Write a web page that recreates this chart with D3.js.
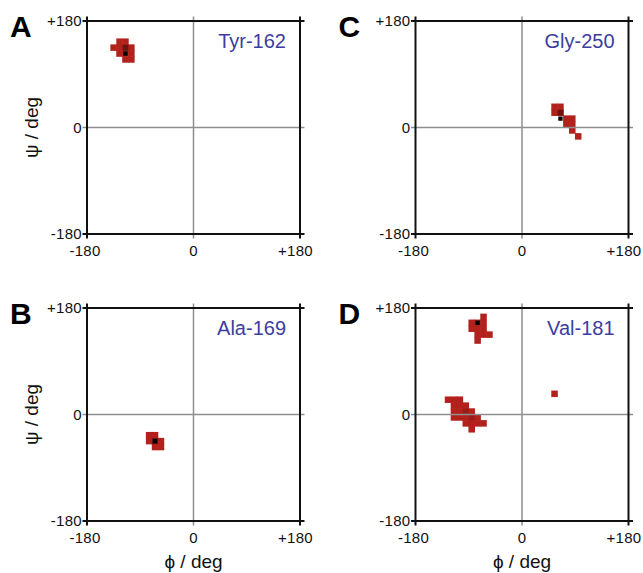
<!DOCTYPE html>
<html>
<head>
<meta charset="utf-8">
<script src="https://cdn.jsdelivr.net/npm/d3@7"></script>
<style>
  body { margin: 0; background: #fff; }
  text { font-family: "Liberation Sans", Arial, sans-serif; }
</style>
</head>
<body>
<svg id="chart" width="643" height="573"></svg>
<script>
// phi/psi bins (lower edge, degrees), 10 deg wide
const binSize = 10;
const tickValues = [-180, 0, 180];
const tickLabels = ["-180", "0", "+180"];

const letters = ["A", "C", "B", "D"];
const residues = ["Tyr-162", "Gly-250", "Ala-169", "Val-181"];

const tyrCells = [
  [-130, 140], [-120, 140],
  [-140, 130], [-130, 130], [-120, 130], [-110, 130],
  [-130, 120], [-120, 120], [-110, 120],
  [-120, 110], [-110, 110]
];
const tyrDark = [[-120, 130]];
const tyrCrystal = [[-120, 120]];

const glyCells = [
  [50, 30], [60, 30], [50, 20], [60, 20],
  [70, 10], [80, 10], [70, 0], [80, 0],
  [80, -10], [90, -20]
];
const glyDark = [[60, 20]];
const glyCrystal = [[60, 10]];

const alaCells = [
  [-80, -40], [-70, -40],
  [-80, -50], [-70, -50], [-60, -50],
  [-70, -60], [-60, -60]
];
const alaDark = [[-70, -50]];
const alaCrystal = [[-70, -50]];

const valCells = [
  [-70, 160],
  [-90, 150], [-80, 150], [-70, 150],
  [-90, 140], [-80, 140], [-70, 140],
  [-80, 130], [-70, 130], [-60, 130],
  [-80, 120],
  [-130, 20], [-120, 20], [-110, 20],
  [-120, 10], [-110, 10], [-100, 10],
  [-120, 0], [-110, 0], [-100, 0], [-90, 0],
  [-120, -10], [-110, -10], [-100, -10], [-90, -10], [-80, -10],
  [-100, -20], [-90, -20], [-80, -20], [-70, -20],
  [-90, -30],
  [50, 30]
];
const valDark = [[-100, 0], [-90, -10]];
const valCrystal = [[-80, 150]];

const cellSets = [tyrCells, glyCells, alaCells, valCells];
const darkSets = [tyrDark, glyDark, alaDark, valDark];
const crystalSets = [tyrCrystal, glyCrystal, alaCrystal, valCrystal];

const size = 213;
const lefts = [87, 415.5];
const tops = [21, 308];

const svg = d3.select("#chart");

const x = d3.scaleLinear().domain([-180, 180]).range([0, size]);
const y = d3.scaleLinear().domain([-180, 180]).range([size, 0]);
const cw = x(binSize) - x(0);

letters.forEach((letter, i) => {
  let col = i % 2, row = Math.floor(i / 2);
  let g = svg.append("g")
    .attr("transform", `translate(${lefts[col]},${tops[row]})`);

  // binned conformations (slight overlap so neighbours fuse)
  g.selectAll("rect.cell")
    .data(cellSets[i])
    .enter()
    .append("rect")
    .attr("class", "cell")
    .attr("x", d => x(d[0]) - 0.3)
    .attr("y", d => y(d[1] + binSize) - 0.3)
    .attr("width", cw + 0.6)
    .attr("height", cw + 0.6)
    .attr("fill", "#b3211c");

  g.selectAll("rect.dark")
    .data(darkSets[i])
    .enter()
    .append("rect")
    .attr("class", "dark")
    .attr("x", d => x(d[0]))
    .attr("y", d => y(d[1] + binSize))
    .attr("width", cw)
    .attr("height", cw)
    .attr("fill", i == 3 ? "#9a1c18" : "#6e1410");

  g.selectAll("rect.crystal")
    .data(crystalSets[i])
    .enter()
    .append("rect")
    .attr("class", "crystal")
    .attr("x", d => x(d[0]) + 0.8)
    .attr("y", d => y(d[1] + binSize) + 0.8)
    .attr("width", cw - 1.6)
    .attr("height", cw - 1.6)
    .attr("fill", "#000");

  let ext = 4.5;
  // zero lines
  g.append("line")
    .attr("x1", x(0)).attr("x2", x(0))
    .attr("y1", -ext).attr("y2", size + ext)
    .attr("stroke", "#8e8e8e").attr("stroke-width", 1.5);
  g.append("line")
    .attr("x1", -ext).attr("x2", size + ext)
    .attr("y1", y(0)).attr("y2", y(0))
    .attr("stroke", "#8e8e8e").attr("stroke-width", 1.5);

  // frame at +/-180, lines run past the corners like ticks
  [-180, 180].forEach(v => {
    g.append("line")
      .attr("x1", x(v)).attr("x2", x(v))
      .attr("y1", -ext).attr("y2", size + ext)
      .attr("stroke", "#111").attr("stroke-width", 2);
    g.append("line")
      .attr("x1", -ext).attr("x2", size + ext)
      .attr("y1", y(v)).attr("y2", y(v))
      .attr("stroke", "#111").attr("stroke-width", 2);
  });

  // tick labels
  g.selectAll("text.ytick")
    .data(tickValues)
    .enter()
    .append("text")
    .attr("class", "ytick")
    .attr("x", -5)
    .attr("y", d => y(d))
    .attr("dy", "0.36em")
    .attr("text-anchor", "end")
    .attr("font-size", 15)
    .attr("letter-spacing", 0.3)
    .attr("fill", "#111")
    .text((d, j) => tickLabels[j]);

  // the sign hangs left of the centred digits
  g.selectAll("text.xtick")
    .data(tickValues)
    .enter()
    .append("text")
    .attr("class", "xtick")
    .attr("x", d => x(d))
    .attr("dx", (d, j) => tickLabels[j][0] == "+" ? -4.5 : (tickLabels[j][0] == "-" ? -2 : 0))
    .attr("y", size + 22)
    .attr("text-anchor", "middle")
    .attr("font-size", 15)
    .attr("letter-spacing", 0.3)
    .attr("fill", "#111")
    .text((d, j) => tickLabels[j]);

  // residue name
  g.append("text")
    .attr("x", size - 14)
    .attr("y", 27)
    .attr("text-anchor", "end")
    .attr("font-size", 20)
    .attr("fill", "#3d3d9e")
    .text(residues[i]);

  // panel letter
  g.append("text")
    .attr("x", -77)
    .attr("y", 15.5)
    .attr("font-size", 30)
    .attr("font-weight", "bold")
    .attr("fill", "#000")
    .text(letter);

  if (col == 0) {
    g.append("text")
      .attr("transform", `translate(-49,${size / 2}) rotate(-90)`)
      .attr("text-anchor", "middle")
      .attr("font-size", 19)
      .attr("fill", "#111")
      .text("ψ / deg");
  }
  if (row == 1) {
    g.append("text")
      .attr("x", x(0))
      .attr("y", size + 47)
      .attr("text-anchor", "middle")
      .attr("font-size", 19)
      .attr("fill", "#111")
      .text("ϕ / deg");
  }
});
</script>
</body>
</html>
